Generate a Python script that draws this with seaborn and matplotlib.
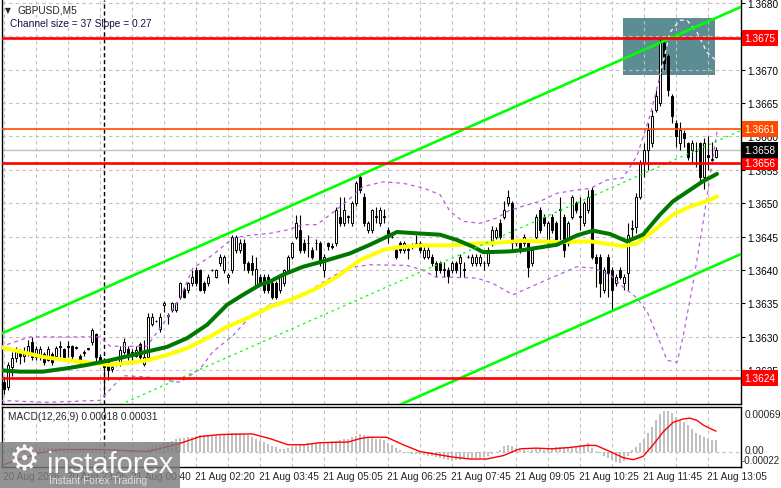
import numpy as np
import matplotlib
matplotlib.use("Agg")
import matplotlib.pyplot as plt
import matplotlib.transforms as mtransforms
from matplotlib.patches import Rectangle
import seaborn as sns

# ---------------------------------------------
# data
# prices in points (1 point = 0.00001), one value per 5-minute bar
# ---------------------------------------------
open_pts = [
    136232, 136225, 136255, 136268, 136276, 136272, 136275, 136292, 136270, 136272,
    136274, 136266, 136274, 136272, 136285, 136282, 136286, 136286, 136284, 136272,
    136276, 136282, 136292, 136304, 136270, 136262, 136262, 136252, 136258, 136262,
    136278, 136282, 136272, 136272, 136290, 136260, 136270, 136320, 136324, 136312,
    136348, 136332, 136340, 136340, 136360, 136372, 136370, 136380, 136400, 136400,
    136380, 136380, 136400, 136390, 136410, 136400, 136390, 136400, 136430, 136430,
    136440, 136410, 136410, 136378, 136390, 136390, 136390, 136380, 136380, 136370,
    136380, 136400, 136420, 136450, 136460, 136440, 136440, 136430, 136440, 136440,
    136400, 136440, 136436, 136440, 136480, 136470, 136480, 136470, 136500, 136540,
    136510, 136460, 136460, 136480, 136470, 136480, 136460, 136450, 136430, 136440,
    136430, 136430, 136436, 136441, 136440, 136420, 136420, 136420, 136410, 136410,
    136400, 136400, 136400, 136410, 136410, 136400, 136420, 136410, 136410, 136410,
    136410, 136410, 136440, 136450, 136470, 136480, 136500, 136500, 136440, 136440,
    136440, 136440, 136410, 136450, 136490, 136480, 136440, 136480, 136470, 136490,
    136480, 136440, 136480, 136500, 136480, 136470, 136490, 136520, 136420, 136420,
    136370, 136420, 136400, 136380, 136400, 136380, 136395, 136462, 136465, 136510,
    136560, 136580, 136590, 136640, 136650, 136740, 136720, 136660, 136620, 136590,
    136605, 136590, 136580, 136578, 136590, 136540, 136572, 136565, 136570,
]
high_pts = [
    136240, 136262, 136278, 136285, 136282, 136285, 136296, 136300, 136286, 136286,
    136278, 136286, 136278, 136286, 136294, 136284, 136294, 136288, 136287, 136274,
    136280, 136284, 136314, 136306, 136274, 136268, 136264, 136258, 136262, 136286,
    136298, 136286, 136282, 136286, 136293, 136296, 136336, 136336, 136326, 136336,
    136354, 136336, 136352, 136352, 136382, 136374, 136382, 136400, 136404, 136402,
    136384, 136394, 136402, 136402, 136424, 136422, 136396, 136452, 136452, 136446,
    136446, 136414, 136422, 136420, 136394, 136394, 136394, 136384, 136384, 136394,
    136402, 136422, 136442, 136482, 136482, 136446, 136452, 136434, 136446, 136444,
    136424, 136442, 136440, 136494, 136510, 136510, 136482, 136504, 136534, 136543,
    136516, 136474, 136492, 136494, 136494, 136492, 136464, 136452, 136434, 136444,
    136444, 136434, 136440, 136452, 136444, 136434, 136434, 136424, 136414, 136414,
    136412, 136404, 136414, 136414, 136424, 136412, 136422, 136424, 136424, 136424,
    136414, 136434, 136466, 136464, 136476, 136504, 136520, 136504, 136444, 136444,
    136454, 136444, 136434, 136484, 136494, 136484, 136474, 136484, 136474, 136510,
    136484, 136474, 136512, 136504, 136510, 136504, 136520, 136524, 136424, 136424,
    136404, 136424, 136404, 136394, 136404, 136394, 136470, 136475, 136515, 136565,
    136590, 136620, 136640, 136670, 136746, 136746, 136724, 136664, 136624, 136622,
    136610, 136592, 136594, 136592, 136592, 136597, 136600, 136592, 136584,
]
low_pts = [
    136215, 136220, 136242, 136262, 136260, 136262, 136272, 136266, 136266, 136266,
    136258, 136264, 136258, 136270, 136270, 136264, 136270, 136266, 136282, 136258,
    136272, 136280, 136288, 136264, 136262, 136212, 136236, 136248, 136256, 136256,
    136274, 136266, 136260, 136270, 136266, 136256, 136266, 136316, 136322, 136308,
    136338, 136320, 136338, 136338, 136356, 136358, 136366, 136376, 136376, 136368,
    136366, 136376, 136398, 136388, 136406, 136396, 136380, 136396, 136426, 136426,
    136400, 136396, 136392, 136375, 136376, 136366, 136366, 136356, 136356, 136366,
    136376, 136396, 136416, 136446, 136426, 136426, 136420, 136416, 136430, 136406,
    136390, 136430, 136432, 136436, 136466, 136466, 136470, 136466, 136496, 136516,
    136466, 136456, 136456, 136470, 136466, 136470, 136440, 136448, 136416, 136426,
    136426, 136416, 136432, 136436, 136426, 136416, 136416, 136406, 136390, 136396,
    136390, 136380, 136396, 136396, 136390, 136390, 136418, 136406, 136406, 136406,
    136400, 136406, 136436, 136446, 136446, 136476, 136496, 136430, 136436, 136426,
    136436, 136390, 136406, 136446, 136456, 136466, 136436, 136456, 136436, 136440,
    136420, 136436, 136476, 136486, 136460, 136466, 136486, 136416, 136375, 136360,
    136366, 136360, 136340, 136376, 136386, 136370, 136370, 136450, 136455, 136506,
    136540, 136550, 136585, 136636, 136645, 136700, 136660, 136620, 136585, 136580,
    136585, 136565, 136560, 136555, 136530, 136522, 136550, 136560, 136568,
]
close_pts = [
    136222, 136258, 136268, 136278, 136272, 136275, 136286, 136270, 136282, 136282,
    136262, 136282, 136262, 136283, 136286, 136270, 136285, 136272, 136285, 136262,
    136277, 136283, 136310, 136270, 136265, 136255, 136250, 136255, 136260, 136280,
    136292, 136270, 136278, 136280, 136270, 136270, 136330, 136330, 136324, 136330,
    136350, 136333, 136350, 136350, 136380, 136360, 136380, 136390, 136380, 136370,
    136370, 136390, 136400, 136400, 136420, 136420, 136392, 136450, 136450, 136440,
    136410, 136400, 136400, 136402, 136380, 136370, 136370, 136360, 136360, 136390,
    136400, 136420, 136440, 136470, 136430, 136430, 136441, 136420, 136441, 136410,
    136420, 136436, 136434, 136490, 136470, 136490, 136481, 136500, 136530, 136520,
    136470, 136470, 136490, 136481, 136490, 136481, 136450, 136450, 136420, 136430,
    136440, 136431, 136436, 136440, 136430, 136430, 136430, 136410, 136400, 136400,
    136401, 136391, 136410, 136400, 136420, 136401, 136420, 136420, 136420, 136420,
    136411, 136430, 136460, 136460, 136450, 136490, 136510, 136440, 136440, 136430,
    136450, 136405, 136430, 136480, 136460, 136470, 136470, 136460, 136440, 136491,
    136430, 136470, 136510, 136490, 136481, 136500, 136510, 136420, 136410, 136380,
    136400, 136395, 136370, 136390, 136390, 136390, 136452, 136463, 136510, 136560,
    136580, 136610, 136630, 136660, 136740, 136710, 136670, 136630, 136600, 136610,
    136598, 136570, 136590, 136579, 136540, 136590, 136570, 136566, 136580,
]

# moving averages and bands, read at sample bars (bar index, price)
ma_green_x = [-1, 4, 9.75, 15.75, 20.75, 26.5, 32.25, 35.75, 40.75, 45.75, 50.75, 55.75,
              59.75, 64, 66.5, 69.75, 74.75, 79.75, 86.5, 91.5, 95.75, 98.25, 103.25,
              109, 113.25, 117.25, 119.75, 121.5, 126.5, 129.75, 138.25, 143.25, 147.25,
              151.5, 155.75, 159.75, 164, 167.25, 171.5, 174.75, 178.25]
ma_green = [1.36250, 1.36248, 1.36248, 1.36253, 1.36258, 1.36265, 1.36273, 1.36278,
            1.36285, 1.36298, 1.36318, 1.36348, 1.36363, 1.36378, 1.36383, 1.36393,
            1.36405, 1.36413, 1.36425, 1.36438, 1.36450, 1.36457, 1.36455, 1.36453,
            1.36445, 1.36435, 1.36427, 1.36427, 1.36428, 1.36430, 1.36438, 1.36452,
            1.36459, 1.36454, 1.36443, 1.36453, 1.36483, 1.36503, 1.36520, 1.36533,
            1.36544]
ma_yellow_x = [-1, 4, 9.75, 15.75, 20.75, 26.5, 32.25, 35.75, 40.75, 45.75, 50.75, 55.75,
               60.75, 64, 66.5, 71.5, 78.25, 83.25, 89, 94.75, 98.25, 104.75, 111.5,
               118.25, 121.5, 129.75, 138.25, 146.5, 154.75, 158.25, 163.25, 167.25,
               171.5, 176.5, 178.25]
ma_yellow = [1.36285, 1.36278, 1.36270, 1.36265, 1.36262, 1.36258, 1.36262, 1.36265,
             1.36273, 1.36283, 1.36298, 1.36315, 1.36328, 1.36337, 1.36345, 1.36355,
             1.36373, 1.36390, 1.36415, 1.36430, 1.36434, 1.36437, 1.36437, 1.36440,
             1.36440, 1.36444, 1.36442, 1.36443, 1.36436, 1.36440, 1.36463, 1.36483,
             1.36495, 1.36505, 1.36510]
bb_up_x = [-1, 6.5, 24, 26.5, 35.75, 40.75, 44, 47.25, 52.25, 57.25, 61.5, 66.5, 70.75,
           74.75, 78.25, 81.5, 85.75, 89.75, 94.75, 99.75, 104.75, 109, 111.5, 114.75,
           119, 123.25, 126.5, 134, 138.25, 143.25, 146.5, 150.75, 154.75, 158.25,
           161.5, 164, 166.5, 169, 170.75, 173.25, 175.75, 178]
bb_up = [1.36285, 1.36300, 1.36300, 1.36286, 1.36286, 1.36328, 1.36358, 1.36403, 1.36423,
         1.36448, 1.36452, 1.36455, 1.36460, 1.36468, 1.36468, 1.36483, 1.36503, 1.36525,
         1.36532, 1.36530, 1.36523, 1.36513, 1.36488, 1.36473, 1.36470, 1.36478, 1.36490,
         1.36503, 1.36515, 1.36520, 1.36522, 1.36535, 1.36538, 1.36571, 1.36631, 1.36691,
         1.36756, 1.36774, 1.36774, 1.36756, 1.36726, 1.36714]
bb_low_x = [-1, 10.25, 24, 29.75, 35.75, 44, 49, 52.25, 57.25, 61.5, 66.5, 74, 81.5,
            85.75, 91.5, 100.75, 104.75, 107.75, 118.25, 122.25, 127.25, 134.75, 143.25,
            147.25, 151.5, 154.75, 158.25, 160.75, 163.25, 165.75, 168.25, 169.75,
            172.25, 174.75, 176.5, 178.25]
bb_low = [1.36205, 1.36202, 1.36205, 1.36242, 1.36240, 1.36232, 1.36252, 1.36278, 1.36302,
          1.36330, 1.36348, 1.36360, 1.36388, 1.36403, 1.36408, 1.36407, 1.36400, 1.36390,
          1.36388, 1.36380, 1.36363, 1.36383, 1.36405, 1.36403, 1.36393, 1.36375, 1.36358,
          1.36338, 1.36303, 1.36265, 1.36262, 1.36300, 1.36380, 1.36470, 1.36540, 1.36607]

# regression channel (ends of the upper line), channel width 37 pips
chan_x = [-1, 184.25]
chan_upper = [1.36304, 1.36794]
chan_width = 0.0037

# horizontal levels
level_prices = [1.36747, 1.36611, 1.36561, 1.36238]
level_labels = ["1.3675", "1.3661", "1.3656", "1.3624"]
level_colors = ["#ff0000", "#ff4a00", "#ff0000", "#ff0000"]
bid_price = 1.3658

# MACD(12,26,9): main values per bar (x 1e-5) and signal samples
macd_main = [
    4, 5, 6, 7, 7, 7, 8, 8, 7, 7, 6, 6, 6, 6,
    6, 5, 5, 5, 5, 4, 4, 4, 5, 5, 4, 2, 1, 0, 0, 1, 1, 2, 2, 2, 1, 1,
    6, 8, 10, 11, 13, 15, 17, 19, 21, 21, 22, 23,
    24, 25, 25, 25, 26, 26, 27, 27, 27, 28, 29, 28,
    27, 25, 22, 20, 17, 15, 12, 9, 7, 5, 5, 6,
    7, 9, 10, 12, 13, 13, 13, 14, 14, 15, 16, 17,
    18, 19, 20, 22, 24, 27, 25, 23, 21, 20, 19, 18,
    14, 11, 6, 3, 1, -1, -2, -3, -3, -4, -5, -6,
    -7, -9, -10, -11, -13, -12, -11, -10, -10, -10, -9, -8,
    -7, -5, -3, 0, 4, 9, 11, 9, 6, 4, 3, 2,
    3, 5, 5, 4, 5, 6, 8, 8, 8, 7, 8, 9,
    9, 10, 13, 6, 2, -1, -5, -8, -12, -14, -16, -13,
    -5, 3, 8, 14, 20, 28, 37, 47, 56, 60, 61, 58,
    52, 47, 44, 40, 34, 28, 25, 23, 20, 18, 18,
]
signal_x = [0, 9, 14, 24, 36, 44, 49, 54, 62, 66.5, 71, 75, 79, 86, 89, 91, 95.7, 99.8,
            104, 108, 112, 116.5, 120.7, 124.8, 129, 133, 137, 141.5, 145.7, 148, 151.5,
            154.8, 157.3, 159.8, 162.3, 164.8, 167.3, 169.8, 171.5, 173.2, 174.8, 176.5,
            178]
signal_vals = [-18, -1, 4, 4, 1, 13, 23, 26, 27, 20, 11, 11, 14, 15, 20, 22, 22, 11,
               1, -3, -7, -10, -10, -5, 5, 6, 5, 7, 10, 10, 1, -8, -11, -6, 11, 30, 44,
               49, 50, 47, 40, 35, 31]

# time axis
price_ticks = [1.3625, 1.3630, 1.3635, 1.3640, 1.3645, 1.3650, 1.3655, 1.3660,
               1.3665, 1.3670, 1.3675, 1.3680]
time_idx = [0, 16, 32, 48, 64, 80, 96, 112, 128, 144, 160, 176]
time_labels = ["20 Aug 2026", "20 Aug 23:05", "21 Aug 00:40", "21 Aug 02:20",
               "21 Aug 03:45", "21 Aug 05:05", "21 Aug 06:25", "21 Aug 07:45",
               "21 Aug 09:05", "21 Aug 10:25", "21 Aug 11:45", "21 Aug 13:05"]
day_break = 25

# ---------------------------------------------
sns.set_style("white")
plt.rcParams["font.family"] = ["Liberation Sans", "DejaVu Sans"]

W, H = 781, 489
fig = plt.figure(figsize=(W / 100, H / 100), dpi=100)
fig.patch.set_facecolor("white")


def fx(px):
    return px / W


def fy(py):
    return 1 - py / H


ax = fig.add_axes([fx(2), fy(404.7), fx(741) - fx(2), fy(1) - fy(404.7)])
ax2 = fig.add_axes([fx(2), fy(467.5), fx(741) - fx(2), fy(408) - fy(467.5)])

o = np.array(open_pts) / 1e5
h = np.array(high_pts) / 1e5
l = np.array(low_pts) / 1e5
c = np.array(close_pts) / 1e5
idx = np.arange(len(o))

x_lo, x_hi = -0.5, 184.25
grid_col = "#c0c0c0"

# ---- main panel ----
for a in (ax, ax2):
    a.set_xlim(x_lo, x_hi)
    for gx in range(0, 177, 8):
        a.axvline(gx, color=grid_col, lw=0.8, dashes=(3, 3), zorder=0.6)
    a.axvline(day_break, color="black", lw=1.0, dashes=(3, 2), zorder=0.7)
    a.set_facecolor("white")

ax.set_ylim(1.36200, 1.368043)
for gy in price_ticks:
    ax.axhline(gy, color=grid_col, lw=0.8, dashes=(3, 3), zorder=0.6)

# teal rectangle behind the spike
rect = Rectangle((154.7, 1.36692), 177.75 - 154.7, 1.36777 - 1.36692,
                 facecolor="#5b8d92", edgecolor="none", zorder=0.5)
ax.add_patch(rect)

ax.axhline(bid_price, color="#c0c0c0", lw=1.0, zorder=0.8)

# candles
bull = c >= o
body_lo = np.minimum(o, c)
body_h = np.abs(c - o)
ax.vlines(idx, l, h, color="black", lw=0.8, zorder=2)
ax.bar(idx[bull], body_h[bull], bottom=body_lo[bull], width=0.68,
       color="white", edgecolor="black", linewidth=0.7, zorder=3)
ax.bar(idx[~bull], body_h[~bull], bottom=body_lo[~bull], width=0.68,
       color="black", edgecolor="black", linewidth=0.7, zorder=3)

# bollinger bands
sns.lineplot(x=bb_up_x, y=bb_up, ax=ax, color="#b65ee0", lw=0.9, zorder=4)
ax.lines[-1].set_dashes([3, 3])
sns.lineplot(x=bb_up_x, y=bb_up, ax=ax, color="white", lw=0.9, zorder=4.1)
ax.lines[-1].set_dashes([3, 3])
ax.lines[-1].set_clip_path(rect)
sns.lineplot(x=bb_low_x, y=bb_low, ax=ax, color="#b65ee0", lw=0.9, zorder=4)
ax.lines[-1].set_dashes([3, 3])

# moving averages
sns.lineplot(x=ma_yellow_x, y=ma_yellow, ax=ax, color="#ffff00", lw=2.9, zorder=5)
sns.lineplot(x=ma_green_x, y=ma_green, ax=ax, color="#007800", lw=2.9, zorder=5.1)

# channel
chan_upper = np.array(chan_upper)
sns.lineplot(x=chan_x, y=chan_upper, ax=ax, color="#00ff00", lw=1.9, zorder=6)
sns.lineplot(x=chan_x, y=chan_upper - chan_width, ax=ax, color="#00ff00", lw=1.9, zorder=6)
sns.lineplot(x=chan_x, y=chan_upper - chan_width / 2, ax=ax, color="#00ff00", lw=0.9, zorder=6)
ax.lines[-1].set_dashes([2, 3])

# levels
for lp, lc in zip(level_prices, level_colors):
    ax.axhline(lp, color=lc, lw=1.9 if lc == "#ff0000" else 1.2, zorder=7)

ax.yaxis.tick_right()
ax.set_yticks(price_ticks)
ax.set_yticklabels([f"{p:.4f}" for p in price_ticks])
ax.tick_params(axis="y", length=3, width=0.8, pad=1.5, labelsize=7.3, colors="black")
ax.set_xticks([])
ax.set_xlabel("")
ax.set_ylabel("")
for side in ("left", "right", "bottom"):
    ax.spines[side].set_color("black")
    ax.spines[side].set_linewidth(1.0)
ax.spines["top"].set_visible(False)

ylab = mtransforms.blended_transform_factory(ax.transAxes, ax.transData)
for lp, lt, lc in zip(level_prices, level_labels, level_colors):
    ax.text(1 + 3.5 / 739, lp, lt, transform=ylab, ha="left", va="center",
            color="white", fontsize=7.3, zorder=20, clip_on=False,
            bbox=dict(boxstyle="square,pad=0.28", fc=lc, ec="none"))
ax.text(1 + 3.5 / 739, bid_price, f"{bid_price:.4f}", transform=ylab, ha="left",
        va="center", color="white", fontsize=7.3, zorder=20, clip_on=False,
        bbox=dict(boxstyle="square,pad=0.28", fc="black", ec="none"))

# ---- MACD panel ----
macd = np.array(macd_main) * 1e-5
ax2.set_ylim(-0.00021, 0.000665)
ax2.axhline(0, color=grid_col, lw=0.8, dashes=(3, 3), zorder=0.6)
ax2.bar(idx, macd, width=0.68, color="#c0c0c0", edgecolor="none", zorder=2)
sns.lineplot(x=signal_x, y=np.array(signal_vals) * 1e-5, ax=ax2, color="#ff0000",
             lw=1.0, zorder=3)
ax2.set_yticks([])
ax2.set_xticks(time_idx)
ax2.tick_params(axis="x", length=3, width=0.8, labelbottom=False, direction="out")
ax2.set_xlabel("")
ax2.set_ylabel("")
for side in ("left", "right", "bottom", "top"):
    ax2.spines[side].set_color("black")
    ax2.spines[side].set_linewidth(1.0)

mlab = ax2.transAxes
ax2.text(1 + 4 / 739, (467.5 - 415) / 59.5, "0.00069", transform=mlab, ha="left",
         va="center", fontsize=7.3, clip_on=False)
ax2.text(1 + 4 / 739, (467.5 - 451) / 59.5, "0.00", transform=mlab, ha="left",
         va="center", fontsize=7.3, clip_on=False)
ax2.text(1 + 1 / 739, (467.5 - 461.5) / 59.5, "-0.00022", transform=mlab, ha="left",
         va="center", fontsize=7.0, clip_on=False)
ax2.text(6 / 739, (467.5 - 417) / 59.5, "MACD(12,26,9) 0.00018 0.00031",
         transform=mlab, ha="left", va="center", fontsize=7.3)

tlab = mtransforms.blended_transform_factory(ax2.transData, ax2.transAxes)
for ti, tt in zip(time_idx, time_labels):
    ax2.text(ti - 0.3, (467.5 - 477) / 59.5, tt, transform=tlab, ha="left",
             va="center", fontsize=7.3, clip_on=False)

# ---- header texts ----
fig.text(fx(5), fy(10.5), "\u25bc", fontsize=5.5, family=["DejaVu Sans"],
         va="center", ha="left")
fig.text(fx(18), fy(10.5), "GBPUSD,M5", fontsize=7.3, va="center", ha="left")
fig.text(fx(10), fy(24), "Channel size = 37 Slope = 0.27", fontsize=7.3,
         va="center", ha="left", color="#12124a")

# ---- watermark ----
fig.add_artist(Rectangle((0, 0), fx(180), fy(443), transform=fig.transFigure,
                         facecolor="#7c7c7c", edgecolor="none", alpha=0.82, zorder=10))
fig.text(fx(24), fy(461), "\u2699", fontsize=25, family=["DejaVu Sans"], color="white",
         ha="center", va="center", zorder=11, alpha=0.95)
fig.text(fx(47), fy(465), "instaforex", fontsize=21, color="white", ha="left",
         va="center", zorder=11, alpha=0.95)
fig.text(fx(49), fy(481), "Instant Forex Trading", fontsize=7.5, color="#e0e0e0",
         ha="left", va="center", zorder=11)

fig.savefig("out.png", dpi=100)
